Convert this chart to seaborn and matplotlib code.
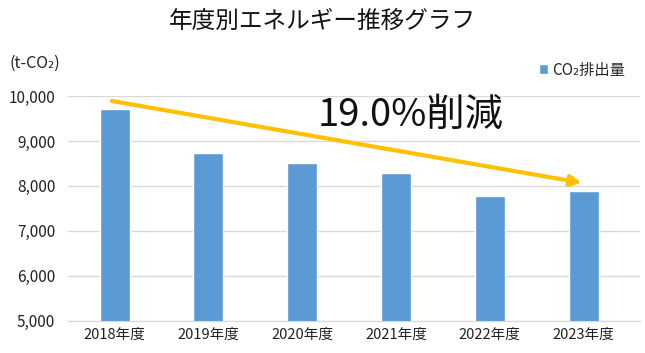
import matplotlib
matplotlib.use("Agg")
import matplotlib.pyplot as plt
import seaborn as sns
import pandas as pd

years = ["2018年度", "2019年度", "2020年度", "2021年度", "2022年度", "2023年度"]
emissions = [9710, 8740, 8500, 8290, 7780, 7890]
y_ticks = [5000, 6000, 7000, 8000, 9000, 10000]
arrow_from = (-0.03, 9890)
arrow_to = (4.98, 8070)

sns.set_style("white")
plt.rcParams["font.family"] = ["Noto Sans CJK JP", "DejaVu Sans"]

df = pd.DataFrame({"year": years, "CO2": emissions})

fig = plt.figure(figsize=(6.45, 3.53), dpi=100)
ax = fig.add_axes([0.105, 0.091, 0.887, 0.637])

sns.barplot(data=df, x="year", y="CO2", color="#5B9BD5", width=0.32,
            saturation=1, ax=ax, zorder=2, label="CO₂排出量")

ax.set_xlim(-0.5, 5.6)
ax.set_ylim(5000, 10000)
ax.set_yticks(y_ticks)
ax.set_yticklabels([f"{v:,}" for v in y_ticks], fontsize=11, color="#222222")
ax.tick_params(axis="x", labelsize=10.5, colors="#222222", length=0, pad=5)
ax.tick_params(axis="y", length=0, pad=9)
ax.set_xlabel("")
ax.set_ylabel("")
ax.yaxis.grid(True, color="#D9D9D9", lw=1, zorder=0)
ax.set_axisbelow(True)
for s in ["top", "right", "left"]:
    ax.spines[s].set_visible(False)
ax.spines["bottom"].set_color("#D9D9D9")
ax.spines["bottom"].set_zorder(3)

ax.annotate("", xy=arrow_to, xytext=arrow_from,
            arrowprops=dict(arrowstyle="-|>", color="#FFC000", lw=3,
                            mutation_scale=16, shrinkA=0, shrinkB=0),
            zorder=4)
ax.text(0.6, 0.915, "19.0%削減", transform=ax.transAxes, fontsize=27.5,
        ha="center", va="center", color="#111111")

leg = ax.legend(loc="center right", bbox_to_anchor=(0.985, 1.115),
                frameon=False, fontsize=11, handlelength=0.6,
                handleheight=0.6, handletextpad=0.3, borderaxespad=0)

fig.text(0.5, 0.94, "年度別エネルギー推移グラフ", ha="center", va="center",
         fontsize=17, color="#111111")
fig.text(0.015, 0.822, "(t-CO₂)", ha="left", va="center", fontsize=11.5,
         color="#222222")

fig.savefig("out.png", dpi=100)
